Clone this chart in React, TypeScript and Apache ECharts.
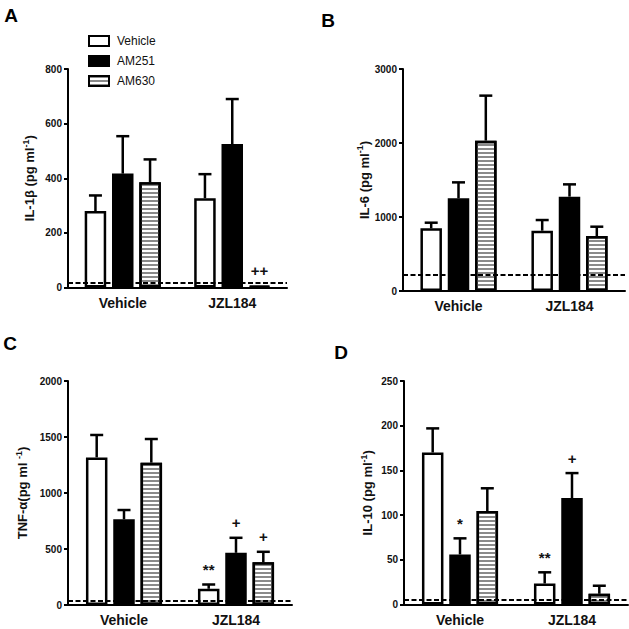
import React, { useEffect, useRef } from "react";
import * as echarts from "echarts";

const categories = ["Vehicle", "JZL184"];
const seriesNames = ["Vehicle", "AM251", "AM630"];

// Panel A: IL-1β
const il1bMeans = [[280, 327], [417, 525], [385, 6]];
const il1bSem = [[57, 88], [137, 165], [84, 0]];
const il1bMarks = [["", ""], ["", ""], ["", "++"]];
const il1bLimit = 16;
const il1bTicks = [0, 200, 400, 600, 800];

// Panel B: IL-6
const il6Means = [[847, 815], [1252, 1275], [2032, 743]];
const il6Sem = [[76, 144], [216, 166], [608, 126]];
const il6Marks = [["", ""], ["", ""], ["", ""]];
const il6Limit = 225;
const il6Ticks = [0, 1000, 2000, 3000];

// Panel C: TNF-α
const tnfMeans = [[1318, 145], [765, 466], [1271, 382]];
const tnfSem = [[200, 38], [83, 134], [211, 93]];
const tnfMarks = [["", "**"], ["", "+"], ["", "+"]];
const tnfLimit = 35;
const tnfTicks = [0, 500, 1000, 1500, 2000];

// Panel D: IL-10
const il10Means = [[170, 23.5], [56, 119], [104.5, 12]];
const il10Sem = [[27, 12.5], [18, 28], [25.5, 9]];
const il10Marks = [["", "**"], ["*", "+"], ["", ""]];
const il10Limit = 5;
const il10Ticks = [0, 50, 100, 150, 200, 250];

const FONT = "Liberation Sans, Arial, sans-serif";
const BAR_W = 21.5;
const BAR_GAP = 0.27;

const panels = [
  {
    means: il1bMeans, sem: il1bSem, marks: il1bMarks, limit: il1bLimit, ticks: il1bTicks,
    grid: { left: 68, top: 69, width: 219, height: 218.5 },
    rich: ["IL-1β (pg ml", "-1", ")"], nameGap: 30,
  },
  {
    means: il6Means, sem: il6Sem, marks: il6Marks, limit: il6Limit, ticks: il6Ticks,
    grid: { left: 403, top: 69, width: 222, height: 222 },
    rich: ["IL-6 (pg ml", "-1", ")"], nameGap: 29,
  },
  {
    means: tnfMeans, sem: tnfSem, marks: tnfMarks, limit: tnfLimit, ticks: tnfTicks,
    grid: { left: 68, top: 381, width: 224, height: 224 },
    rich: ["TNF-α(pg ml ", "-1", ")"], nameGap: 37,
  },
  {
    means: il10Means, sem: il10Sem, marks: il10Marks, limit: il10Limit, ticks: il10Ticks,
    grid: { left: 404, top: 381, width: 224, height: 223.5 },
    rich: ["IL-10 (pg ml", "-1", ")"], nameGap: 28,
  },
];

const stripeDecal = {
  symbol: "rect",
  symbolSize: 1,
  dashArrayX: [1, 0],
  dashArrayY: [2, 1.4],
  rotation: 0,
  color: "#8a8a8a",
};

const fills = [
  { color: "#ffffff" },
  { color: "#000000" },
  { color: "#ffffff", decal: stripeDecal },
];

export default function App() {
  const ref = useRef<HTMLDivElement>(null);

  useEffect(() => {
    if (!ref.current) return;
    const chart = echarts.init(ref.current, undefined, { renderer: "svg" });

    const grids: any[] = [];
    const xAxes: any[] = [];
    const yAxes: any[] = [];
    const series: any[] = [];

    panels.forEach((p, pi) => {
      grids.push({ ...p.grid, containLabel: false });
      xAxes.push({
        type: "category",
        gridIndex: pi,
        data: categories,
        axisLine: { lineStyle: { color: "#000", width: 2 } },
        axisTick: { alignWithLabel: true, length: 4, lineStyle: { color: "#000", width: 2 } },
        axisLabel: { color: "#111", fontFamily: FONT, fontWeight: "bold", fontSize: 14, margin: 8 },
      });
      const maxV = p.ticks[p.ticks.length - 1];
      yAxes.push({
        type: "value",
        gridIndex: pi,
        min: 0,
        max: maxV,
        interval: p.ticks[1] - p.ticks[0],
        splitLine: { show: false },
        axisLine: { show: true, lineStyle: { color: "#000", width: 2 } },
        axisTick: { show: true, length: 4, lineStyle: { color: "#000", width: 2 } },
        axisLabel: {
          color: "#111", fontFamily: FONT, fontWeight: "bold", fontSize: 10, margin: 6,
          formatter: (v: number) => String(v),
        },
        name: `{a|${p.rich[0]}}{s|${p.rich[1]}}{a|${p.rich[2]}}`,
        nameLocation: "middle",
        nameRotate: 90,
        nameGap: p.nameGap,
        nameTextStyle: {
          color: "#111",
          fontFamily: FONT,
          fontWeight: "bold",
          fontSize: 13,
          rich: {
            a: { fontFamily: FONT, fontWeight: "bold", fontSize: 13, color: "#111" },
            s: { fontFamily: FONT, fontWeight: "bold", fontSize: 9, color: "#111", verticalAlign: "top", padding: [0, 0, 8, 0] },
          },
        },
      });

      seriesNames.forEach((name, si) => {
        const s: any = {
          type: "bar",
          name,
          xAxisIndex: pi,
          yAxisIndex: pi,
          data: p.means[si],
          barWidth: BAR_W,
          barGap: `${BAR_GAP * 100}%`,
          itemStyle: { ...fills[si], borderColor: "#000", borderWidth: 2.5 },
        };
        if (si === 0) {
          s.markLine = {
            silent: true,
            symbol: ["none", "none"],
            label: { show: false },
            lineStyle: { type: [5, 2.5], color: "#000", width: 1.8 },
            data: [{ yAxis: p.limit }],
          };
        }
        series.push(s);
      });

      const items: any[] = [];
      seriesNames.forEach((_, si) => {
        categories.forEach((_c, ci) => {
          items.push({ ci, si, mean: p.means[si][ci], sem: p.sem[si][ci], mark: p.marks[si][ci] });
        });
      });
      series.push({
        type: "custom",
        name: "err" + pi,
        xAxisIndex: pi,
        yAxisIndex: pi,
        z: 3,
        encode: { x: 0, y: 2 },
        data: items.map((it) => [it.ci, it.si, it.mean + it.sem, it.mean]),
        renderItem: (params: any, api: any) => {
          const it = items[params.dataIndex];
          const base = api.coord([it.ci, it.mean]);
          const top = api.coord([it.ci, it.mean + it.sem]);
          const x = base[0] + (it.si - 1) * BAR_W * (1 + BAR_GAP);
          const children: any[] = [];
          if (it.sem > 0) {
            children.push({
              type: "line",
              shape: { x1: x, y1: base[1], x2: x, y2: top[1] },
              style: { stroke: "#000", lineWidth: 2.5 },
            });
            children.push({
              type: "line",
              shape: { x1: x - 6.5, y1: top[1], x2: x + 6.5, y2: top[1] },
              style: { stroke: "#000", lineWidth: 2.5 },
            });
          }
          if (it.mark) {
            children.push({
              type: "text",
              x,
              y: top[1] - 15,
              style: {
                text: it.mark,
                textAlign: "center",
                textVerticalAlign: "middle",
                fontFamily: FONT,
                fontWeight: "bold",
                fontSize: 15,
                fill: "#111",
              },
            });
          }
          return { type: "group", children };
        },
      });
    });

    const letter = (text: string, x: number, y: number) => ({
      type: "text",
      x,
      y,
      style: {
        text,
        textAlign: "center",
        textVerticalAlign: "middle",
        fontFamily: FONT,
        fontWeight: "bold",
        fontSize: 19,
        fill: "#000",
      },
    });

    chart.setOption({
      animation: false,
      backgroundColor: "#fff",
      grid: grids,
      xAxis: xAxes,
      yAxis: yAxes,
      legend: {
        data: seriesNames,
        orient: "vertical",
        left: 83,
        top: 30,
        itemWidth: 20,
        itemHeight: 10,
        itemGap: 8,
        icon: "rect",
        selectedMode: false,
        textStyle: { fontFamily: FONT, fontSize: 12, color: "#111", padding: [0, 0, 0, 3] },
      },
      graphic: [
        letter("A", 11, 15),
        letter("B", 328, 20),
        letter("C", 10, 343),
        letter("D", 341, 352),
      ],
      series,
    });

    return () => chart.dispose();
  }, []);

  return (
    <div
      ref={ref}
      style={{ position: "fixed", left: 0, top: 0, width: 629, height: 629, background: "#fff" }}
    />
  );
}
